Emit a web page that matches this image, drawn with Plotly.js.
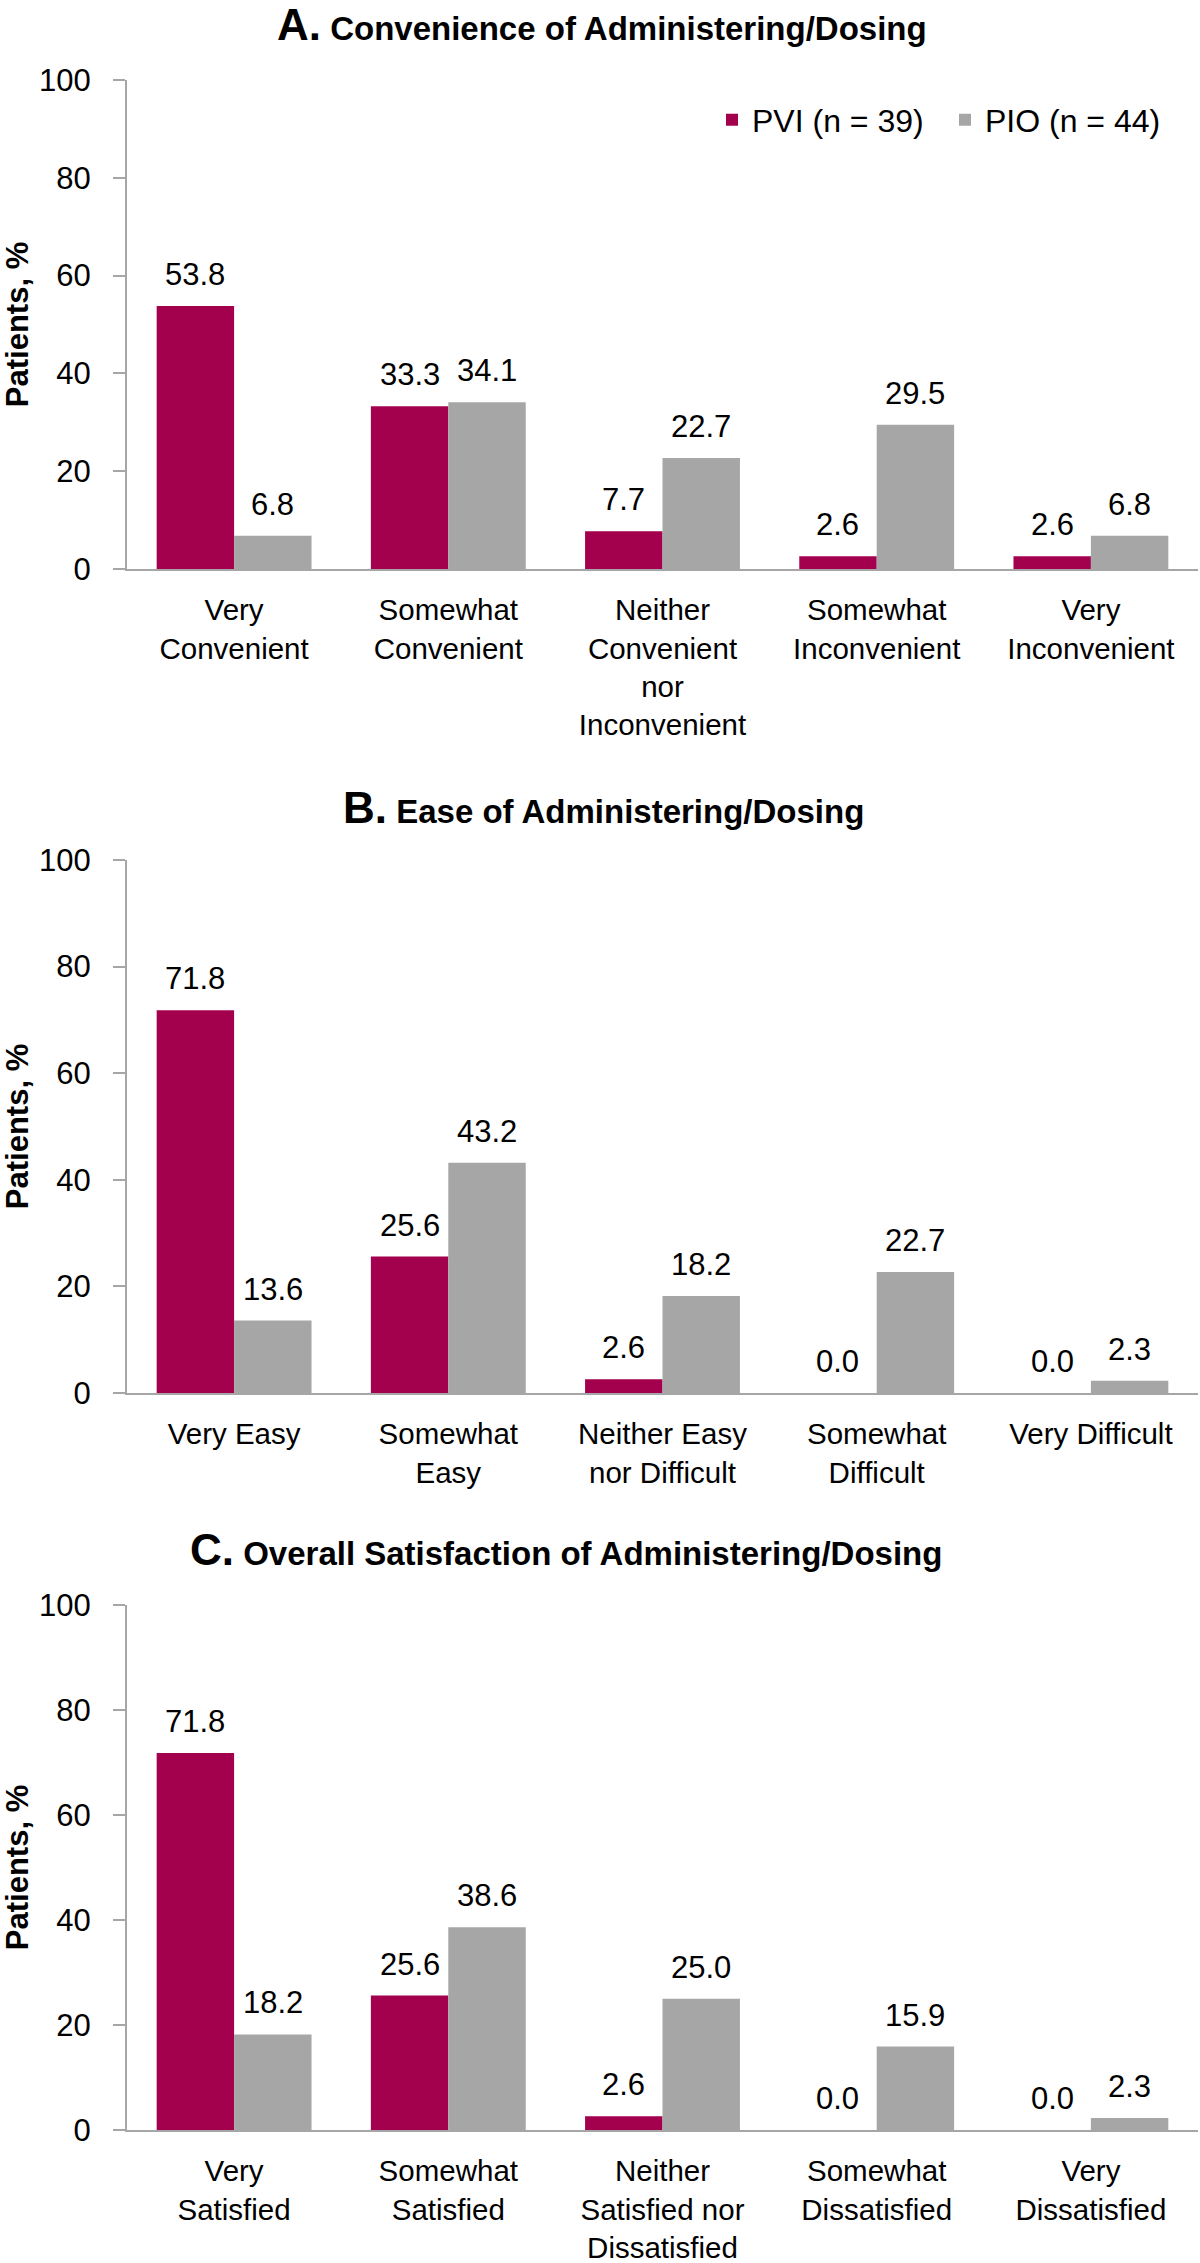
<!DOCTYPE html>
<html><head><meta charset="utf-8">
<script src="https://cdn.plot.ly/plotly-3.0.1.min.js"></script>
<style>body{margin:0;background:#fff}</style>
</head><body>
<div id="chart" style="width:1200px;height:2263px"></div>
<script>
// ---- data ----
const seriesNames = ['PVI (n = 39)', 'PIO (n = 44)'];
const seriesColors = ['#A3004E', '#A6A6A6'];

const titleLetters = ['A.', 'B.', 'C.'];
const titleTexts = ['Convenience of Administering/Dosing', 'Ease of Administering/Dosing', 'Overall Satisfaction of Administering/Dosing'];

const catsA = ['Very<br>Convenient', 'Somewhat<br>Convenient', 'Neither<br>Convenient<br>nor<br>Inconvenient', 'Somewhat<br>Inconvenient', 'Very<br>Inconvenient'];
const pviA = [53.8, 33.3, 7.7, 2.6, 2.6];
const pioA = [6.8, 34.1, 22.7, 29.5, 6.8];

const catsB = ['Very Easy', 'Somewhat<br>Easy', 'Neither Easy<br>nor Difficult', 'Somewhat<br>Difficult', 'Very Difficult'];
const pviB = [71.8, 25.6, 2.6, 0.0, 0.0];
const pioB = [13.6, 43.2, 18.2, 22.7, 2.3];

const catsC = ['Very<br>Satisfied', 'Somewhat<br>Satisfied', 'Neither<br>Satisfied nor<br>Dissatisfied', 'Somewhat<br>Dissatisfied', 'Very<br>Dissatisfied'];
const pviC = [71.8, 25.6, 2.6, 0.0, 0.0];
const pioC = [18.2, 38.6, 25.0, 15.9, 2.3];

const yTicks = [0, 20, 40, 60, 80, 100];
const yTitle = 'Patients, %';

// ---- layout helpers ----
const W = 1200, H = 2263, L = 127, R = 2;
const FONT = 'Liberation Sans, Arial, Helvetica, sans-serif';
const panels = [
  {cats: catsA, vals: [pviA, pioA], y0: 569, y100: 80, titleY: 24, titleX: 602},
  {cats: catsB, vals: [pviB, pioB], y0: 1393, y100: 860, titleY: 807, titleX: 603},
  {cats: catsC, vals: [pviC, pioC], y0: 2130, y100: 1605, titleY: 1549, titleX: 566}
];
const BARGAP = 0.277;
const half = (1 - BARGAP) / 4;

const traces = [];
const annotations = [];
const layout = {
  width: W, height: H,
  margin: {l: L, r: R, t: 0, b: 0},
  paper_bgcolor: '#fff', plot_bgcolor: '#fff',
  font: {family: FONT, size: 31, color: '#000'},
  barmode: 'group', bargap: BARGAP, bargroupgap: 0,
  showlegend: true,
  legend: {orientation: 'h', x: (712 - L) / (W - L - R), xanchor: 'left', y: 1 - 120 / H, yanchor: 'middle',
           entrywidth: 188,
           font: {family: FONT, size: 32, color: '#000'}, bgcolor: 'rgba(0,0,0,0)', itemclick: false, tracegroupgap: 0},
  annotations: annotations
};

panels.forEach((p, k) => {
  const sfx = k === 0 ? '' : String(k + 1);
  const xa = 'x' + sfx, ya = 'y' + sfx;
  p.vals.forEach((v, s) => {
    traces.push({
      type: 'bar', x: p.cats, y: v, name: seriesNames[s],
      xaxis: xa, yaxis: ya,
      marker: {color: seriesColors[s], line: {width: 0}},
      showlegend: k === 0, hoverinfo: 'skip'
    });
    v.forEach((val, i) => {
      annotations.push({
        xref: xa, yref: ya, x: i + (s === 0 ? -half : half), y: val,
        text: val.toFixed(1), showarrow: false, yanchor: 'bottom', xanchor: 'center',
        yshift: 12, font: {family: FONT, size: 31, color: '#000'}
      });
    });
  });
  annotations.push({
    xref: 'paper', yref: 'paper', x: (p.titleX - L) / (W - L - R), y: 1 - p.titleY / H,
    xanchor: 'center', yanchor: 'middle', showarrow: false,
    text: '<b><span style="font-size:44px">' + titleLetters[k] + '</span> ' + titleTexts[k] + '</b>',
    font: {family: FONT, size: 33, color: '#000'}
  });
  layout['xaxis' + sfx] = {
    anchor: ya, domain: [0, 1], type: 'category', range: [-0.5, 4.5],
    showline: true, linecolor: '#A6A6A6', linewidth: 2, ticks: '', showgrid: false, zeroline: false,
    tickfont: {family: FONT, size: 29.5, color: '#000'}, ticklabelstandoff: 14, automargin: false, fixedrange: true
  };
  layout['yaxis' + sfx] = {
    anchor: xa, domain: [1 - p.y0 / H, 1 - p.y100 / H], range: [0, 100],
    tickvals: yTicks, ticktext: yTicks.map(String),
    showline: true, linecolor: '#A6A6A6', linewidth: 2, ticks: 'outside', ticklen: 12, tickwidth: 2, tickcolor: '#A6A6A6',
    showgrid: false, zeroline: false, automargin: false, fixedrange: true,
    tickfont: {family: FONT, size: 31, color: '#000'}, ticklabelstandoff: 16,
    title: {text: '<b>' + yTitle + '</b>', font: {family: FONT, size: 31, color: '#000'}, standoff: 12}
  };
});

Plotly.newPlot('chart', traces, layout, {staticPlot: true, displayModeBar: false});
</script>
</body></html>
